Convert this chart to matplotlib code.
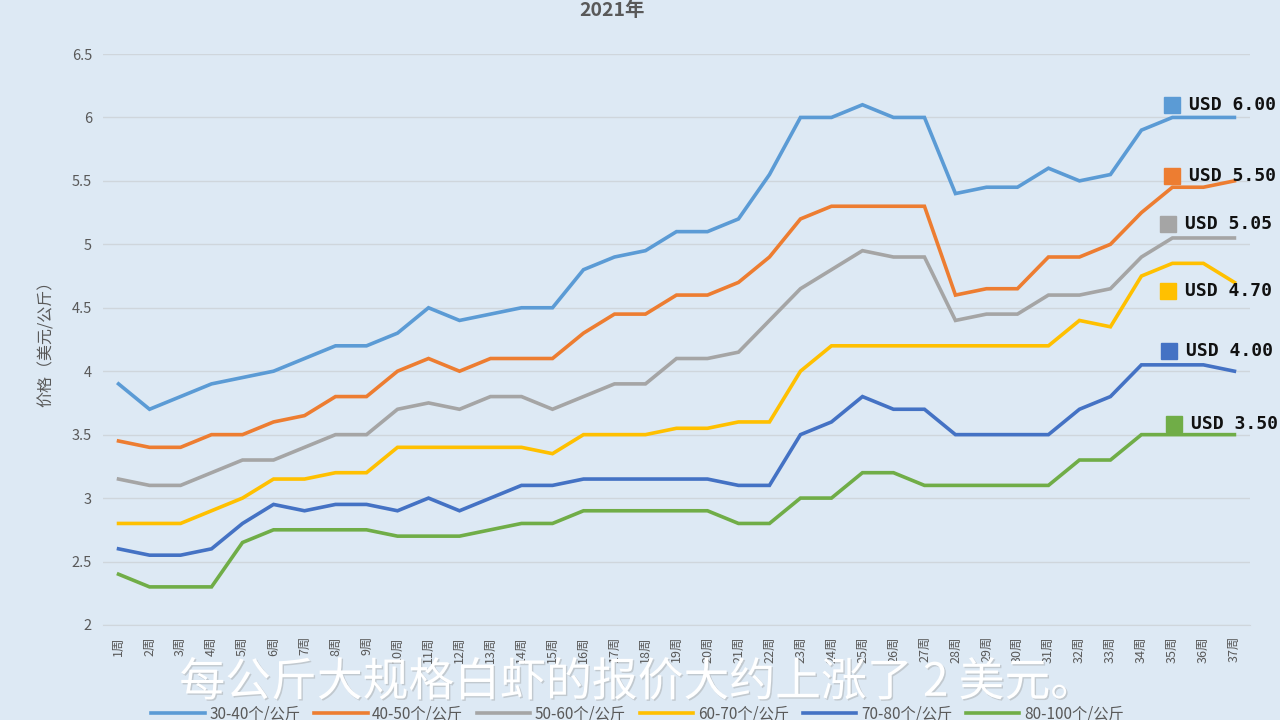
import numpy as np
import matplotlib
matplotlib.use('Agg')
import matplotlib.pyplot as plt
import matplotlib.patheffects as pe

plt.rcParams['font.family'] = ['Noto Sans CJK SC', 'DejaVu Sans']

# data
weeks = list(range(1, 38))
week_labels = [f"{w}周" for w in weeks]

series_names = ["30-40个/公斤", "40-50个/公斤", "50-60个/公斤",
                "60-70个/公斤", "70-80个/公斤", "80-100个/公斤"]

price_30_40 = [3.9, 3.7, 3.8, 3.9, 3.95, 4.0, 4.1, 4.2, 4.2, 4.3, 4.5, 4.4, 4.45,
               4.5, 4.5, 4.8, 4.9, 4.95, 5.1, 5.1, 5.2, 5.55, 6.0, 6.0, 6.1, 6.0,
               6.0, 5.4, 5.45, 5.45, 5.6, 5.5, 5.55, 5.9, 6.0, 6.0, 6.0]
price_40_50 = [3.45, 3.4, 3.4, 3.5, 3.5, 3.6, 3.65, 3.8, 3.8, 4.0, 4.1, 4.0, 4.1,
               4.1, 4.1, 4.3, 4.45, 4.45, 4.6, 4.6, 4.7, 4.9, 5.2, 5.3, 5.3, 5.3,
               5.3, 4.6, 4.65, 4.65, 4.9, 4.9, 5.0, 5.25, 5.45, 5.45, 5.5]
price_50_60 = [3.15, 3.1, 3.1, 3.2, 3.3, 3.3, 3.4, 3.5, 3.5, 3.7, 3.75, 3.7, 3.8,
               3.8, 3.7, 3.8, 3.9, 3.9, 4.1, 4.1, 4.15, 4.4, 4.65, 4.8, 4.95, 4.9,
               4.9, 4.4, 4.45, 4.45, 4.6, 4.6, 4.65, 4.9, 5.05, 5.05, 5.05]
price_60_70 = [2.8, 2.8, 2.8, 2.9, 3.0, 3.15, 3.15, 3.2, 3.2, 3.4, 3.4, 3.4, 3.4,
               3.4, 3.35, 3.5, 3.5, 3.5, 3.55, 3.55, 3.6, 3.6, 4.0, 4.2, 4.2, 4.2,
               4.2, 4.2, 4.2, 4.2, 4.2, 4.4, 4.35, 4.75, 4.85, 4.85, 4.7]
price_70_80 = [2.6, 2.55, 2.55, 2.6, 2.8, 2.95, 2.9, 2.95, 2.95, 2.9, 3.0, 2.9, 3.0,
               3.1, 3.1, 3.15, 3.15, 3.15, 3.15, 3.15, 3.1, 3.1, 3.5, 3.6, 3.8, 3.7,
               3.7, 3.5, 3.5, 3.5, 3.5, 3.7, 3.8, 4.05, 4.05, 4.05, 4.0]
price_80_100 = [2.4, 2.3, 2.3, 2.3, 2.65, 2.75, 2.75, 2.75, 2.75, 2.7, 2.7, 2.7, 2.75,
                2.8, 2.8, 2.9, 2.9, 2.9, 2.9, 2.9, 2.8, 2.8, 3.0, 3.0, 3.2, 3.2,
                3.1, 3.1, 3.1, 3.1, 3.1, 3.3, 3.3, 3.5, 3.5, 3.5, 3.5]

end_labels = ["USD 6.00", "USD 5.50", "USD 5.05", "USD 4.70", "USD 4.00", "USD 3.50"]

all_series = [price_30_40, price_40_50, price_50_60, price_60_70, price_70_80, price_80_100]

# styling
colors = ["#5B9BD5", "#ED7D31", "#A5A5A5", "#FFC000", "#4472C4", "#70AD47"]
label_y = [6.10, 5.54, 5.16, 4.63, 4.16, 3.58]
label_x = [35.0, 35.0, 34.85, 34.85, 34.9, 35.05]
bg = "#dde9f4"
txt_gray = "#595959"

fig = plt.figure(figsize=(12.8, 7.2), dpi=100, facecolor=bg)
ax = fig.add_axes([0.0805, 0.132, 0.896, 0.793])
ax.set_facecolor(bg)

for name, vals, c in zip(series_names, all_series, colors):
    ax.plot(weeks, vals, color=c, lw=2.6, label=name, solid_joinstyle='miter')

for lx, ly, lab, c in zip(label_x, label_y, end_labels, colors):
    ax.plot([lx], [ly], marker='s', markersize=12, color=c, clip_on=False, zorder=5)
    ax.text(lx + 0.55, ly, lab, ha='left', va='center', fontsize=13,
            family=['DejaVu Sans Mono'], fontweight='bold', color='#111111',
            clip_on=False, zorder=6)

ax.set_xlim(0.5, 37.5)
ax.set_ylim(2, 6.5)
ax.set_yticks(np.arange(2, 6.51, 0.5))
ax.set_yticklabels([f"{v:g}" for v in np.arange(2, 6.51, 0.5)], color=txt_gray, fontsize=10.5)
ax.set_xticks(weeks)
ax.set_xticklabels(week_labels, rotation=90, fontsize=9, color=txt_gray)
ax.tick_params(axis='both', length=0, pad=8)
ax.grid(axis='y', color='#cfd6dc', lw=1)
ax.set_axisbelow(True)
for s in ['top', 'right', 'left']:
    ax.spines[s].set_visible(False)
ax.spines['bottom'].set_color('#cfd6dc')

ax.set_ylabel("价格（美元/公斤）", fontsize=11.5, color=txt_gray, labelpad=12)
fig.text(0.478, 0.985, "2021年", ha='center', va='center', fontsize=14,
         fontweight='bold', color=txt_gray)

fig.legend(loc='center', bbox_to_anchor=(0.498, 0.008), ncol=6, frameon=False,
           fontsize=11, handlelength=3.5, columnspacing=0.9, handletextpad=0.3,
           labelcolor=txt_gray)

# subtitle burned into the video frame
fig.text(0.4985, 0.052, "每公斤大规格白虾的报价大约上涨了 2 美元。", ha='center', va='center',
         fontsize=33, fontweight='medium', color='white',
         path_effects=[pe.withSimplePatchShadow(offset=(1, -1), shadow_rgbFace='#999999', alpha=0.4)])

fig.savefig("out.png", dpi=100, facecolor=bg)
